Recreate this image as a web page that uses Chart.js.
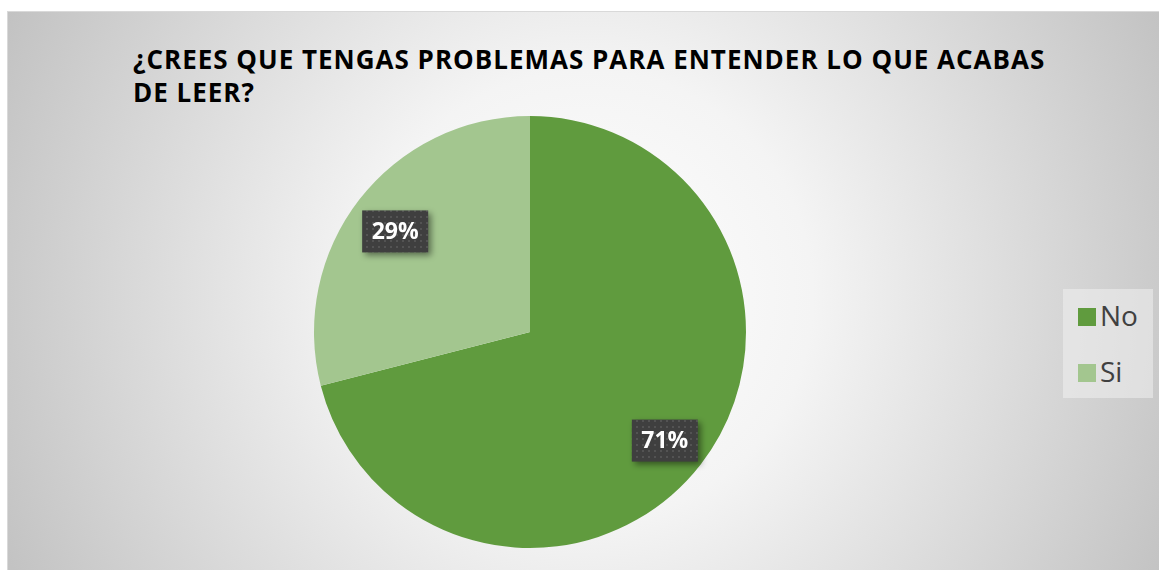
<!DOCTYPE html>
<html>
<head>
<meta charset="utf-8">
<script src="https://cdn.jsdelivr.net/npm/chart.js@4"></script>
<style>
  body { margin: 0; width: 1159px; height: 570px; overflow: hidden; background: #fff; }
  .frame {
    position: absolute; left: 7px; top: 11px; width: 1160px; height: 570px;
    border: 1px solid #d9d9d9; box-sizing: border-box;
    background: radial-gradient(circle farthest-corner at 50% 50%, #ffffff 0%, #f4f4f4 35%, #c2c2c2 100%);
  }
  .title {
    position: absolute; left: 133px; top: 43px; width: 1000px;
    font-family: "Open Sans", sans-serif; font-weight: bold; font-size: 26px;
    letter-spacing: 1px; line-height: 33px; color: #000;
  }
  .legend {
    position: absolute; left: 1063px; top: 289px; width: 90px; height: 109px;
    background: rgba(240, 240, 240, 0.55);
    font-family: "Open Sans", sans-serif; font-size: 28px; color: #404040;
  }
  .legend div { position: absolute; left: 15px; height: 30px; line-height: 30px; }
  .legend span { display: inline-block; width: 18px; height: 18px; margin-right: 4px; vertical-align: 0px; }
  #pie { position: absolute; left: 304px; top: 106px; }
</style>
</head>
<body>
<div class="frame"></div>
<div class="title">¿CREES QUE TENGAS PROBLEMAS PARA ENTENDER LO QUE ACABAS<br>DE LEER?</div>
<div class="legend" id="legend"></div>
<canvas id="pie" width="452" height="452"></canvas>
<script>
// data
const labels = ['No', 'Si'];
const values = [71, 29];
const colors = ['#609b3e', '#a3c68f'];

// html legend
const legendBox = document.getElementById('legend');
labels.forEach((l, i) => {
  const row = document.createElement('div');
  row.style.top = (i === 0 ? 11 : 67) + 'px';
  row.innerHTML = '<span style="background:' + colors[i] + '"></span>' + l;
  legendBox.appendChild(row);
});

// dotted dark pattern for the label boxes
function dotPattern(ctx) {
  const c = document.createElement('canvas');
  c.width = 6; c.height = 6;
  const p = c.getContext('2d');
  p.fillStyle = '#3f3f3f';
  p.fillRect(0, 0, 6, 6);
  p.fillStyle = '#535353';
  p.fillRect(2, 2, 2, 2);
  return ctx.createPattern(c, 'repeat');
}

const labelPlugin = {
  id: 'pctLabels',
  afterDatasetsDraw(chart) {
    const ctx = chart.ctx;
    const meta = chart.getDatasetMeta(0);
    const total = values.reduce((a, b) => a + b, 0);
    ctx.save();
    ctx.font = 'bold 23px "Open Sans", sans-serif';
    meta.data.forEach((arc, i) => {
      const { x, y, startAngle, endAngle, outerRadius } = arc.getProps(['x', 'y', 'startAngle', 'endAngle', 'outerRadius'], true);
      const mid = (startAngle + endAngle) / 2;
      const r = outerRadius * 0.79;
      const cx = x + Math.cos(mid) * r;
      const cy = y + Math.sin(mid) * r + 4;
      const txt = Math.round(values[i] / total * 100) + '%';
      const w = 66, h = 42;
      ctx.shadowColor = 'rgba(0,0,0,0.45)';
      ctx.shadowBlur = 6;
      ctx.shadowOffsetX = 3;
      ctx.shadowOffsetY = 3;
      ctx.fillStyle = dotPattern(ctx);
      ctx.fillRect(cx - w / 2, cy - h / 2, w, h);
      ctx.shadowColor = 'transparent';
      ctx.fillStyle = '#fff';
      ctx.textAlign = 'center';
      ctx.textBaseline = 'middle';
      ctx.fillText(txt, cx, cy + 1);
    });
    ctx.restore();
  }
};

new Chart(document.getElementById('pie'), {
  type: 'pie',
  data: {
    labels: labels,
    datasets: [{
      data: values,
      backgroundColor: colors,
      borderWidth: 0
    }]
  },
  options: {
    responsive: false,
    animation: false,
    layout: { padding: 10 },
    plugins: {
      legend: { display: false },
      tooltip: { enabled: false }
    }
  },
  plugins: [labelPlugin]
});
</script>
</body>
</html>
